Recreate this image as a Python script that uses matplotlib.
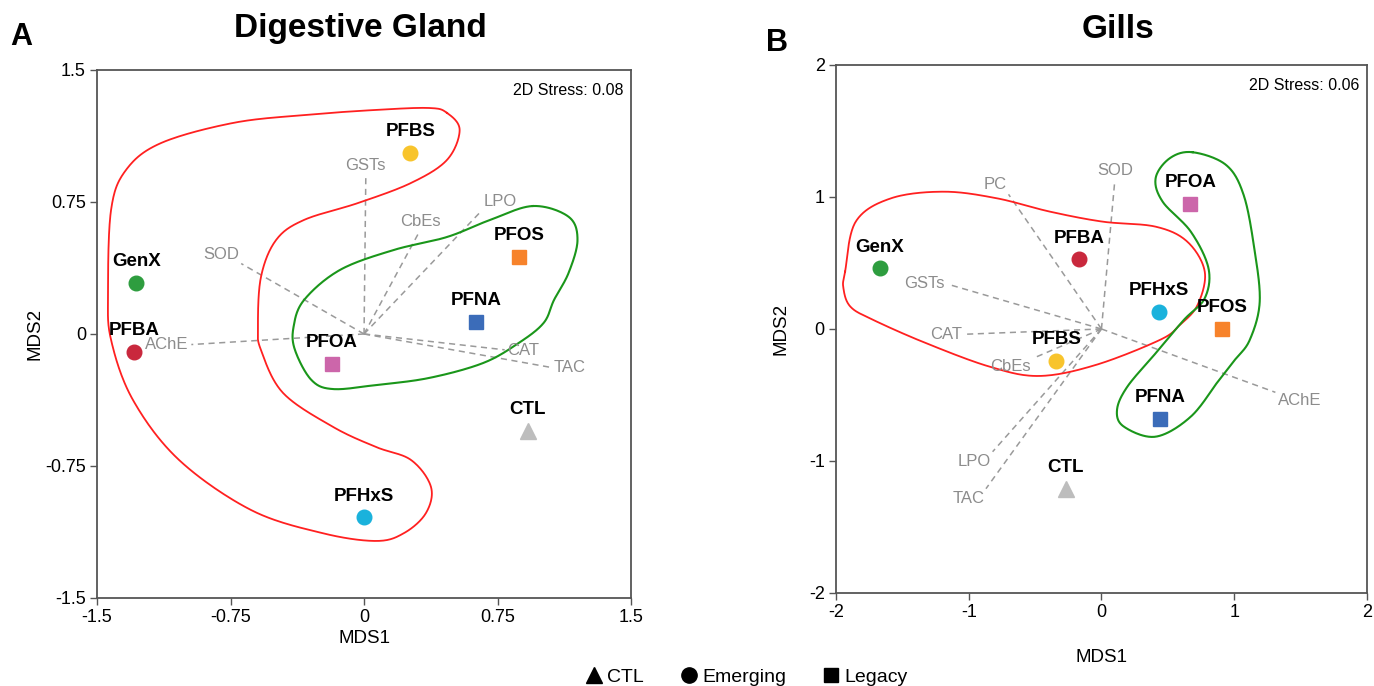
import numpy as np
import matplotlib
matplotlib.use("Agg")
import matplotlib.pyplot as plt
from matplotlib.lines import Line2D

plt.rcParams['font.family'] = ['Liberation Sans', 'DejaVu Sans']

# ---------------- data: Digestive Gland ----------------
dg_names = ["PFBS", "GenX", "PFBA", "PFOS", "PFNA", "PFOA", "CTL", "PFHxS"]
dg_x = [0.26, -1.28, -1.29, 0.87, 0.63, -0.18, 0.92, 0.00]
dg_y = [1.03, 0.29, -0.10, 0.44, 0.07, -0.17, -0.55, -1.04]

dg_vec_names = ["GSTs", "SOD", "CbEs", "LPO", "AChE", "CAT", "TAC"]
dg_vec_x = [0.01, -0.69, 0.31, 0.66, -0.97, 0.79, 1.05]
dg_vec_y = [0.90, 0.40, 0.58, 0.70, -0.06, -0.09, -0.19]

dg_red_x = [0.466, 0.537, 0.466, 0.264, -0.034, -0.337, -0.494, -0.579, -0.596, -0.579,
            -0.455, -0.174, 0.067, 0.264, 0.376, 0.348, 0.225, 0.067, -0.236, -0.635,
            -1.039, -1.298, -1.421, -1.438, -1.421, -1.337, -1.140, -0.736, -0.337, 0.067, 0.365]
dg_red_y = [1.256, 1.159, 0.989, 0.858, 0.744, 0.648, 0.534, 0.324, 0.040, -0.091,
            -0.335, -0.528, -0.642, -0.716, -0.869, -1.017, -1.131, -1.176, -1.131, -1.000,
            -0.716, -0.375, -0.034, 0.233, 0.705, 0.932, 1.085, 1.199, 1.244, 1.273, 1.284]
dg_green_x = [0.949, 1.149, 1.199, 1.149, 1.067, 1.009, 0.869, 0.669, 0.365, 0.067,
              -0.174, -0.296, -0.388, -0.396, -0.337, -0.135, 0.166, 0.466, 0.708]
dg_green_y = [0.727, 0.666, 0.534, 0.347, 0.193, 0.063, -0.051, -0.165, -0.250, -0.290,
              -0.313, -0.261, -0.091, 0.040, 0.193, 0.364, 0.477, 0.551, 0.648]

# ---------------- data: Gills ----------------
gi_names = ["GenX", "PFBA", "PFOA", "PFHxS", "PFOS", "PFBS", "PFNA", "CTL"]
gi_x = [-1.67, -0.17, 0.67, 0.43, 0.91, -0.34, 0.44, -0.27]
gi_y = [0.46, 0.53, 0.95, 0.13, 0.00, -0.24, -0.68, -1.21]

gi_vec_names = ["SOD", "PC", "GSTs", "CAT", "CbEs", "LPO", "TAC", "AChE"]
gi_vec_x = [0.10, -0.70, -1.16, -1.03, -0.51, -0.82, -0.87, 1.31]
gi_vec_y = [1.12, 1.02, 0.34, -0.04, -0.22, -0.93, -1.21, -0.48]

gi_red_x = [-1.931, -1.851, -1.585, -1.186, -0.788, -0.389, 0.009, 0.408, 0.647, 0.778,
            0.724, 0.590, 0.440, -0.044, -0.470, -0.841, -1.320, -1.718, -1.891, -1.944]
gi_red_y = [0.434, 0.813, 0.990, 1.040, 0.990, 0.889, 0.813, 0.775, 0.661, 0.434,
            0.182, 0.030, -0.083, -0.273, -0.356, -0.286, -0.108, 0.068, 0.169, 0.311]
gi_green_x = [0.686, 0.939, 1.071, 1.151, 1.192, 1.117, 1.004, 0.886, 0.673, 0.408,
              0.169, 0.117, 0.195, 0.408, 0.620, 0.778, 0.806, 0.673, 0.461, 0.408, 0.514]
gi_green_y = [1.339, 1.242, 1.015, 0.611, 0.207, -0.083, -0.235, -0.386, -0.664, -0.816,
              -0.740, -0.614, -0.437, -0.184, 0.068, 0.233, 0.460, 0.737, 0.964, 1.142, 1.293]

# ---------------- styles ----------------
group = {"CTL": "CTL", "GenX": "Emerging", "PFBA": "Emerging", "PFBS": "Emerging",
         "PFHxS": "Emerging", "PFOA": "Legacy", "PFOS": "Legacy", "PFNA": "Legacy"}
colors = {"GenX": "#2e9d3f", "PFBA": "#c9283d", "PFBS": "#f8c42c", "PFHxS": "#1ab2dc",
          "PFOA": "#cc66aa", "PFOS": "#f7832b", "PFNA": "#3b6cb9", "CTL": "#bdbdbd"}
markers = {"CTL": "^", "Emerging": "o", "Legacy": "s"}
msize = {"CTL": 11, "Emerging": 10.5, "Legacy": 10}


def smooth_closed(x, y, n=25):
    P = np.column_stack([x, y])
    m = len(P)
    out = []
    t = np.linspace(0, 1, n, endpoint=False)
    for i in range(m):
        p0, p1, p2, p3 = P[(i - 1) % m], P[i], P[(i + 1) % m], P[(i + 2) % m]
        t2, t3 = t * t, t * t * t
        pts = 0.5 * ((2 * p1)[None, :] + (-p0 + p2)[None, :] * t[:, None]
                     + (2 * p0 - 5 * p1 + 4 * p2 - p3)[None, :] * t2[:, None]
                     + (-p0 + 3 * p1 - 3 * p2 + p3)[None, :] * t3[:, None])
        out.append(pts)
    out = np.vstack(out + [P[:1]])
    return out[:, 0], out[:, 1]


def draw_panel(ax, names, xs, ys, vnames, vx, vy, red, green, lim, ticks, ticklabels, stress):
    ax.set_xlim(-lim, lim)
    ax.set_ylim(-lim, lim)
    rx, ry = smooth_closed(*red)
    ax.plot(rx, ry, color="#ff2020", lw=1.3, zorder=2)
    gx, gy = smooth_closed(*green)
    ax.plot(gx, gy, color="#1a961a", lw=1.5, zorder=2)
    for nm, dx, dy in zip(vnames, vx, vy):
        ax.plot([0, dx], [0, dy], color="#9a9a9a", lw=1.1, ls=(0, (4, 3)), zorder=1)
        ang = np.arctan2(dy, dx)
        c, s = np.cos(ang), np.sin(ang)
        ha = "left" if c > 0.55 else ("right" if c < -0.55 else "center")
        va = "bottom" if s > 0.3 else ("top" if s < -0.3 else "center")
        ax.annotate(nm, (dx, dy), xytext=(2 * c, 2 * s), textcoords="offset points",
                    ha=ha, va=va, fontsize=12, color="#8c8c8c", zorder=3)
    for nm, x, y in zip(names, xs, ys):
        g = group[nm]
        ax.plot([x], [y], marker=markers[g], ms=msize[g], color=colors[nm], ls="none", zorder=4)
        ax.annotate(nm, (x, y), xytext=(0, 9), textcoords="offset points", ha="center",
                    va="bottom", fontsize=13.5, fontweight="bold", color="black", zorder=5)
    ax.set_xticks(ticks)
    ax.set_yticks(ticks)
    ax.set_xticklabels(ticklabels)
    ax.set_yticklabels(ticklabels)
    ax.tick_params(direction="out", length=5, width=1, color="#555555", labelsize=13, pad=3)
    for sp in ax.spines.values():
        sp.set_color("#555555")
        sp.set_linewidth(1.3)
    ax.text(0.985, 0.975, stress, transform=ax.transAxes, ha="right", va="top", fontsize=11.5)


fig = plt.figure(figsize=(13.74, 6.86), dpi=100)
ax1 = fig.add_axes([0.0706, 0.1283, 0.3887, 0.7697])
ax2 = fig.add_axes([0.6084, 0.1356, 0.3865, 0.7697])

draw_panel(ax1, dg_names, dg_x, dg_y, dg_vec_names, dg_vec_x, dg_vec_y,
           (dg_red_x, dg_red_y), (dg_green_x, dg_green_y), 1.5,
           [-1.5, -0.75, 0, 0.75, 1.5], ["-1.5", "-0.75", "0", "0.75", "1.5"], "2D Stress: 0.08")
draw_panel(ax2, gi_names, gi_x, gi_y, gi_vec_names, gi_vec_x, gi_vec_y,
           (gi_red_x, gi_red_y), (gi_green_x, gi_green_y), 2,
           [-2, -1, 0, 1, 2], ["-2", "-1", "0", "1", "2"], "2D Stress: 0.06")

ax1.set_xlabel("MDS1", fontsize=13.5)
ax1.set_ylabel("MDS2", fontsize=13.5)
ax2.set_xlabel("MDS1", fontsize=13.5)
ax2.set_ylabel("MDS2", fontsize=13.5)
# label centres (axes fractions)
ax1.xaxis.set_label_coords(0.5, -(639 - 598) / 528, transform=ax1.transAxes)
ax1.yaxis.set_label_coords(-(97 - 35) / 534, 0.5, transform=ax1.transAxes)
ax2.xaxis.set_label_coords(0.5, -(658 - 593) / 528, transform=ax2.transAxes)
ax2.yaxis.set_label_coords(-(836 - 781) / 531, 0.5, transform=ax2.transAxes)
for lab in (ax1.xaxis.label, ax2.xaxis.label):
    lab.set_va("center")
for lab in (ax1.yaxis.label, ax2.yaxis.label):
    lab.set_va("center")

fig.text(360 / 1374, 1 - 28 / 686, "Digestive Gland", ha="center", va="center",
         fontsize=24, fontweight="bold")
fig.text(1118 / 1374, 1 - 29 / 686, "Gills", ha="center", va="center",
         fontsize=24, fontweight="bold")
fig.text(21 / 1374, 1 - 37 / 686, "A", ha="center", va="center", fontsize=22, fontweight="bold")
fig.text(777 / 1374, 1 - 43 / 686, "B", ha="center", va="center", fontsize=22, fontweight="bold")

handles = [Line2D([], [], marker="^", color="black", ls="none", ms=12),
           Line2D([], [], marker="o", color="black", ls="none", ms=11),
           Line2D([], [], marker="s", color="black", ls="none", ms=10)]
fig.legend(handles, ["CTL", "Emerging", "Legacy"], loc="center", ncol=3,
           bbox_to_anchor=(745 / 1374, 1 - 677 / 686), frameon=False, fontsize=14,
           handletextpad=0.1, columnspacing=1.7, handlelength=1.2)

fig.savefig("out.png", dpi=100)
